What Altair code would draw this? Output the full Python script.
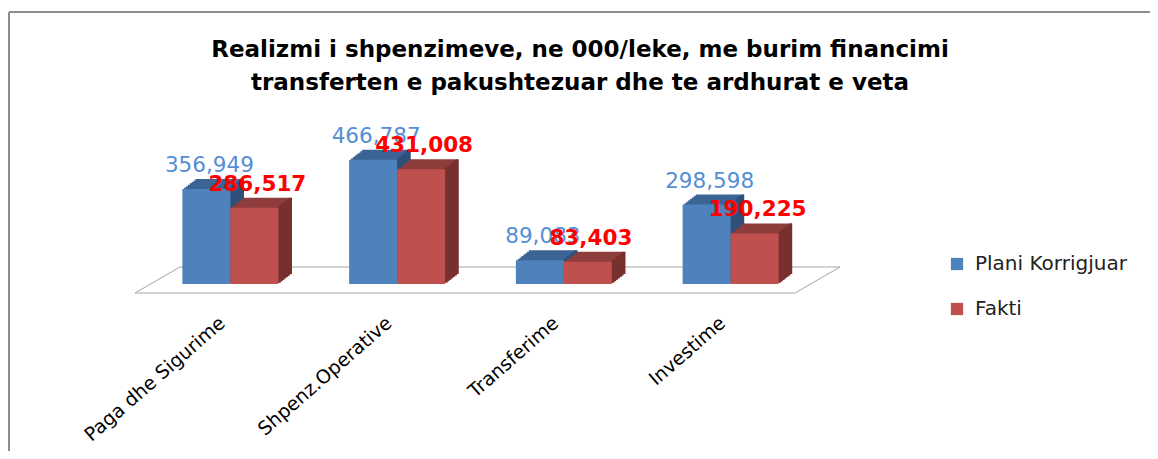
import altair as alt
import pandas as pd

categories = ["Paga dhe Sigurime", "Shpenz.Operative", "Transferime", "Investime"]
series_names = ["Plani Korrigjuar", "Fakti"]
plani = [356949, 466787, 89083, 298598]
fakti = [286517, 431008, 83403, 190225]
title_lines = [
    "Realizmi i shpenzimeve, ne 000/leke, me burim financimi",
    "transferten e pakushtezuar dhe te ardhurat e veta",
]

rows = []
for c, p, f in zip(categories, plani, fakti):
    rows.append({"cat": c, "series": series_names[0], "value": p})
    rows.append({"cat": c, "series": series_names[1], "value": f})
df = pd.DataFrame(rows)
df["label"] = df["value"].map(lambda v: f"{v:,}")
one = pd.DataFrame({"z": [0]})

W, H = 667, 133
BW = 48
DX, DY = 13, 10
N = 7
FONT = "DejaVu Sans"

front = {"Plani Korrigjuar": "#4f81bd", "Fakti": "#c0504d"}
topc = {"Plani Korrigjuar": "#3b6494", "Fakti": "#8f3d3c"}
sidec = {"Plani Korrigjuar": "#2f5079", "Fakti": "#78302f"}
labc = {"Plani Korrigjuar": "#558ed5", "Fakti": "#ff0000"}
labw = {"Plani Korrigjuar": "normal", "Fakti": "bold"}
base_off = {"Plani Korrigjuar": -BW / 2, "Fakti": BW / 2}

xenc = alt.X("cat:N", sort=categories, scale=alt.Scale(paddingInner=0, paddingOuter=0), title=None)
yenc = alt.Y("value:Q", scale=alt.Scale(domain=[0, 500000]), axis=None)

layers = []

# frame
frame_col = "#8c8c8c"
layers.append(alt.Chart(one).mark_rule(color=frame_col, strokeWidth=2).encode(
    x=alt.value(-138), x2=alt.value(1100), y=alt.value(-139)))
layers.append(alt.Chart(one).mark_rule(color=frame_col, strokeWidth=2).encode(
    x=alt.value(-138), y=alt.value(-139), y2=alt.value(400)))

# floor
floor_col = "#a6a6a6"
layers.append(alt.Chart(one).mark_rule(color=floor_col).encode(
    x=alt.value(-12), x2=alt.value(648), y=alt.value(H + 9)))
layers.append(alt.Chart(one).mark_rule(color=floor_col).encode(
    x=alt.value(33), x2=alt.value(693), y=alt.value(H - 17)))
layers.append(alt.Chart(one).mark_rule(color=floor_col).encode(
    x=alt.value(-12), x2=alt.value(33), y=alt.value(H + 9), y2=alt.value(H - 17)))
layers.append(alt.Chart(one).mark_rule(color=floor_col).encode(
    x=alt.value(648), x2=alt.value(693), y=alt.value(H + 9), y2=alt.value(H - 17)))

for s in series_names:
    d = alt.Chart(df).transform_filter(alt.datum.series == s)
    for k in range(N, 0, -1):
        layers.append(
            d.mark_bar(size=BW, color=topc[s], xOffset=base_off[s] + k * DX / N,
                       yOffset=-k * DY / N, y2Offset=-k * DY / N).encode(x=xenc, y=yenc)
        )
    for k in range(N, 0, -1):
        layers.append(
            d.mark_bar(size=DX / N + 1.2, color=sidec[s],
                       xOffset=base_off[s] + BW / 2 + (k - 0.5) * DX / N,
                       yOffset=-k * DY / N, y2Offset=-k * DY / N).encode(x=xenc, y=yenc)
        )
    layers.append(
        d.mark_bar(size=BW, xOffset=base_off[s]).encode(
            x=xenc, y=yenc,
            color=alt.Color(
                "series:N",
                scale=alt.Scale(domain=series_names, range=[front[n] for n in series_names]),
                legend=alt.Legend(title=None),
            ),
        )
    )

for s in series_names:
    d = alt.Chart(df).transform_filter(alt.datum.series == s)
    layers.append(
        d.mark_text(dx=base_off[s] + 3, dy=-17, baseline="alphabetic", align="center",
                    font=FONT, fontSize=21.5, fontWeight=labw[s], color=labc[s]).encode(
            x=xenc, y=yenc, text="label:N")
    )

# title
for i, t in enumerate(title_lines):
    layers.append(
        alt.Chart(one).mark_text(text=t, font=FONT, fontSize=23, fontWeight="bold",
                                 color="#000000", align="center", baseline="middle").encode(
            x=alt.value(433), y=alt.value(-101 + 33 * i))
    )

chart = alt.layer(*layers).properties(
    width=W, height=H,
    autosize=alt.AutoSizeParams(type="none"),
    padding={"left": 139, "top": 143, "right": 336, "bottom": 167},
).configure_view(
    strokeWidth=0
).configure_axisX(
    domain=False, ticks=False, labelAngle=-41, labelAlign="right",
    labelBaseline="middle", labelPadding=36, labelOffset=-8,
    labelFont=FONT, labelFontSize=19, labelColor="#000000", labelLimit=400,
).configure_legend(
    orient="none", legendX=800, legendY=103,
    symbolType="square", symbolSize=150, symbolStrokeWidth=0,
    labelFont=FONT, labelFontSize=20, labelColor="#222222",
    rowPadding=25, labelOffset=8,
)

chart.save("out.html", embed_options={"renderer": "svg", "actions": False})
